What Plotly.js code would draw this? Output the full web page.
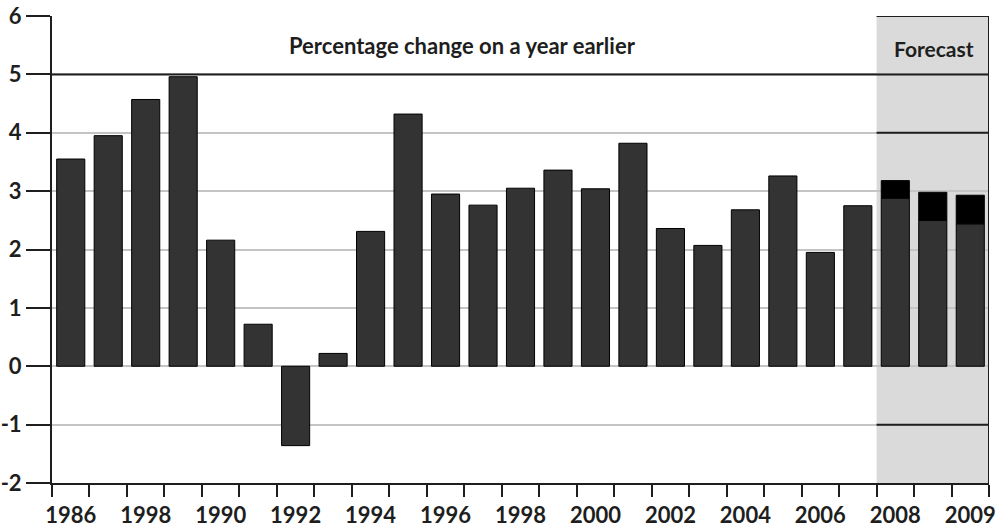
<!DOCTYPE html>
<html>
<head>
<meta charset="utf-8">
<script src="https://cdn.plot.ly/plotly-3.0.1.min.js"></script>
<style>html,body{margin:0;padding:0;background:#fff;}#chart{width:1003px;height:529px;}</style>
</head>
<body>
<div id="chart"></div>
<script>
// Outturn values (percentage change on a year earlier), one per bar
const outturn = [3.55, 3.95, 4.57, 4.96, 2.16, 0.72, -1.36, 0.22, 2.31, 4.32, 2.95, 2.76, 3.05, 3.36, 3.04, 3.82, 2.36, 2.07, 2.68, 3.26, 1.95, 2.75];
// Forecast bars: lower (grey) part and total height (black top)
const forecastBase = [2.88, 2.50, 2.44];
const forecastTop = [3.18, 2.98, 2.93];
// Axis labels (every second bar plus the last one, as printed)
const tickLabels = ['1986', '1998', '1990', '1992', '1994', '1996', '1998', '2000', '2002', '2004', '2006', '2008', '2009'];
const tickLabelBars = [0, 2, 4, 6, 8, 10, 12, 14, 16, 18, 20, 22, 24];
const yTicks = [-2, -1, 0, 1, 2, 3, 4, 5, 6];
const titleText = 'Percentage change on a year earlier';
const forecastText = 'Forecast';

const nOut = outturn.length;
const nAll = nOut + forecastBase.length;
const xOut = outturn.map((_, i) => i);
const xFc = forecastBase.map((_, i) => nOut + i);
const boundaries = [];
for (let i = 0; i <= nAll; i++) boundaries.push(i - 0.5);
const fcExtra = forecastTop.map((v, i) => +(v - forecastBase[i]).toFixed(3));

const FONT = 'Lato, "Open Sans", "DejaVu Sans", sans-serif';
const DARK = '#1e1e1e';
const GRID = '#c4c4c4';
const barFill = '#333333';

const traces = [
  {type: 'bar', x: xOut, y: outturn, width: 0.75, marker: {color: barFill, line: {color: '#000', width: 1}}, hoverinfo: 'y'},
  {type: 'bar', x: xFc, y: forecastBase, width: 0.75, marker: {color: barFill, line: {color: '#000', width: 1}}, hoverinfo: 'y'},
  {type: 'bar', x: xFc, y: fcExtra, base: forecastBase, width: 0.75, marker: {color: '#000', line: {color: '#000', width: 1}}, hoverinfo: 'y'},
  // invisible trace so that the label axis is drawn
  {type: 'scatter', x: [0], y: [0], xaxis: 'x2', mode: 'markers', marker: {opacity: 0}, hoverinfo: 'skip', showlegend: false}
];

const xr = [-0.5, nAll - 0.5];
const fcStart = nOut - 0.5;
const shapes = [
  {type: 'rect', xref: 'x', yref: 'y', x0: fcStart, x1: xr[1], y0: yTicks[0], y1: yTicks[yTicks.length - 1], fillcolor: '#dadada', line: {width: 0}, layer: 'below'},
  {type: 'line', xref: 'x', yref: 'y', x0: xr[0], x1: xr[1], y0: 5, y1: 5, line: {color: DARK, width: 2}, layer: 'between'},
  {type: 'line', xref: 'x', yref: 'y', x0: fcStart, x1: xr[1], y0: 6, y1: 6, line: {color: DARK, width: 2}, layer: 'between'},
  {type: 'line', xref: 'x', yref: 'y', x0: fcStart, x1: xr[1], y0: 4, y1: 4, line: {color: DARK, width: 2}, layer: 'between'},
  {type: 'line', xref: 'x', yref: 'y', x0: fcStart, x1: xr[1], y0: -1, y1: -1, line: {color: DARK, width: 2}, layer: 'between'},
  {type: 'line', xref: 'x', yref: 'y', x0: xr[1], x1: xr[1], y0: yTicks[0], y1: yTicks[yTicks.length - 1], line: {color: DARK, width: 2}, layer: 'above'}
];

const layout = {
  width: 1003, height: 529,
  margin: {l: 52, r: 14, t: 16, b: 46, pad: 0},
  paper_bgcolor: '#fff', plot_bgcolor: '#fff',
  barmode: 'overlay',
  showlegend: false,
  font: {family: FONT, color: DARK, size: 22},
  xaxis: {
    range: xr, tickmode: 'array', tickvals: boundaries, ticktext: boundaries.map(() => ''),
    ticks: 'outside', ticklen: 12, tickwidth: 2, tickcolor: DARK,
    showline: true, linecolor: DARK, linewidth: 2, showgrid: false, zeroline: false, fixedrange: true
  },
  xaxis2: {
    overlaying: 'x', anchor: 'y', side: 'bottom', range: xr,
    tickmode: 'array', tickvals: tickLabelBars, ticktext: tickLabels,
    ticks: 'outside', ticklen: 13, tickcolor: 'rgba(0,0,0,0)',
    showline: false, showgrid: false, zeroline: false,
    tickfont: {family: FONT, size: 22, color: DARK, weight: 'bold'}
  },
  yaxis: {
    range: [yTicks[0], yTicks[yTicks.length - 1]], tickmode: 'array', tickvals: yTicks,
    ticktext: yTicks.map(String),
    ticks: 'outside', ticklen: 24, tickwidth: 2, tickcolor: DARK,
    showline: true, linecolor: DARK, linewidth: 2,
    showgrid: true, gridcolor: GRID, gridwidth: 2,
    zeroline: true, zerolinecolor: GRID, zerolinewidth: 2,
    tickfont: {family: FONT, size: 22, color: DARK, weight: 'bold'}, fixedrange: true
  },
  shapes: shapes,
  annotations: [
    {text: '<b>' + titleText + '</b>', xref: 'paper', yref: 'paper', x: 0.4386, y: 0.936, showarrow: false, xanchor: 'center', yanchor: 'middle', font: {family: FONT, size: 22, color: DARK}},
    {text: '<b>' + forecastText + '</b>', xref: 'paper', yref: 'paper', x: 0.941, y: 0.931, showarrow: false, xanchor: 'center', yanchor: 'middle', font: {family: FONT, size: 21, color: DARK}}
  ]
};

Plotly.newPlot('chart', traces, layout, {displayModeBar: false, staticPlot: true});
</script>
</body>
</html>
